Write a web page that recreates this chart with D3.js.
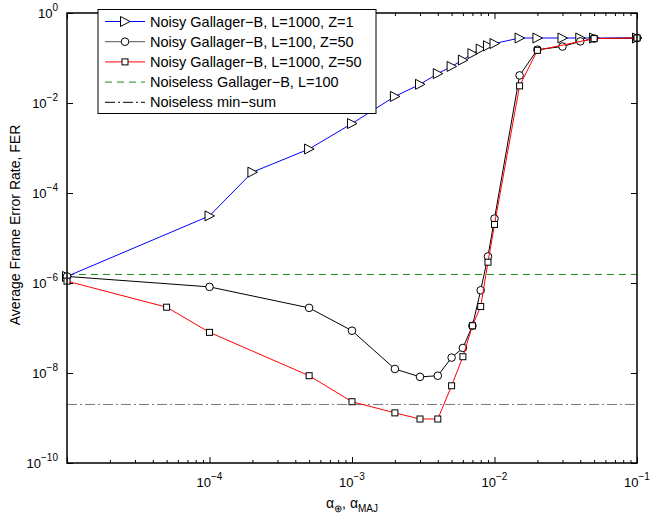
<!DOCTYPE html>
<html><head><meta charset="utf-8">
<script src="https://cdn.jsdelivr.net/npm/d3@7"></script>
<style>
body{margin:0;background:#fff;}
text{font-family:"Liberation Sans",Arial,Helvetica,sans-serif;fill:#000;}
</style></head>
<body><svg id="c" width="652" height="517"></svg>
<script>
// ---- data ----
const blueX = [1e-5,1e-4,2e-4,5e-4,1e-3,2e-3,3e-3,4e-3,5e-3,6e-3,7e-3,8e-3,9e-3,1e-2,1.5e-2,2e-2,3e-2,4e-2,5e-2,1e-1];
const blueY = [1.4e-6,3.1e-5,2.9e-4,9.5e-4,3.5e-3,1.4e-2,2.6e-2,4.5e-2,6.5e-2,9e-2,0.125,0.158,0.187,0.21,0.278,0.278,0.278,0.278,0.278,0.278];
const blackX = [1e-5,1e-4,5e-4,1e-3,2e-3,3e-3,4e-3,5e-3,6e-3,7e-3,8e-3,9e-3,1e-2,1.5e-2,2e-2,3e-2,4e-2,5e-2,1e-1];
const blackY = [1.4e-6,8.2e-7,2.8e-7,8.7e-8,1.23e-8,8.2e-9,8.7e-9,2.2e-8,3.6e-8,1.12e-7,6.9e-7,3.9e-6,2.7e-5,4.1e-2,0.153,0.18,0.234,0.27,0.278];
const redX = [1e-5,5e-5,1e-4,5e-4,1e-3,2e-3,3e-3,4e-3,5e-3,6e-3,7e-3,8e-3,9e-3,1e-2,1.5e-2,2e-2,5e-2,1e-1];
const redY = [1.1e-6,2.9e-7,8e-8,8.7e-9,2.3e-9,1.3e-9,9.5e-10,9.5e-10,5.2e-9,2.3e-8,1.12e-7,3e-7,2.9e-6,2e-5,2.4e-2,0.148,0.27,0.278];
const noiselessGallagerB = 1.55e-6;
const noiselessMinSum = 2e-9;
const xTickExps = [-4,-3,-2,-1];
const yTickExps = [0,-2,-4,-6,-8,-10];
const legendLabels = ["Noisy Gallager\u2212B, L=1000, Z=1","Noisy Gallager\u2212B, L=100, Z=50","Noisy Gallager\u2212B, L=1000, Z=50","Noiseless Gallager\u2212B, L=100","Noiseless min\u2212sum"];

// ---- layout ----
const svg = d3.select("#c");
const L=67,R=637,T=13,B=463;
const x = d3.scaleLog().domain([1e-5,1e-1]).range([L,R]);
const y = d3.scaleLog().domain([1e-10,1]).range([B,T]);

const xMinor=[];
for(let e=-5;e<-1;e++) for(let m=2;m<=9;m++) xMinor.push(m*Math.pow(10,e));
const xMajor = [-5,-4,-3,-2,-1].map(e=>Math.pow(10,e));
const yMajor = yTickExps.map(e=>Math.pow(10,e));

function styleAxis(g){g.select(".domain").remove();g.selectAll("line").attr("stroke","#000").attr("stroke-width",1);g.selectAll("text").remove();}
svg.append("g").attr("transform",`translate(0,${B})`).call(d3.axisBottom(x).tickValues(xMajor).tickSize(-6).tickFormat("")).call(styleAxis);
svg.append("g").attr("transform",`translate(0,${B})`).call(d3.axisBottom(x).tickValues(xMinor).tickSize(-3).tickFormat("")).call(styleAxis);
svg.append("g").attr("transform",`translate(0,${T})`).call(d3.axisTop(x).tickValues(xMajor).tickSize(-6).tickFormat("")).call(styleAxis);
svg.append("g").attr("transform",`translate(0,${T})`).call(d3.axisTop(x).tickValues(xMinor).tickSize(-3).tickFormat("")).call(styleAxis);
svg.append("g").attr("transform",`translate(${L},0)`).call(d3.axisLeft(y).tickValues(yMajor).tickSize(-6).tickFormat("")).call(styleAxis);
svg.append("g").attr("transform",`translate(${R},0)`).call(d3.axisRight(y).tickValues(yMajor).tickSize(-6).tickFormat("")).call(styleAxis);

xTickExps.forEach(e=>{
  const t=svg.append("text").attr("x",x(Math.pow(10,e))).attr("y",B+24).attr("text-anchor","middle").style("font-size","13px");
  t.append("tspan").text("10");
  t.append("tspan").attr("dy",-7).style("font-size","10px").text(e<0?"\u2212"+(-e):String(e));
});
yTickExps.forEach(e=>{
  const t=svg.append("text").attr("x",L-9).attr("y",y(Math.pow(10,e))+5).attr("text-anchor","end").style("font-size","13px");
  t.append("tspan").text("10");
  t.append("tspan").attr("dy",-7).style("font-size","10px").text(e<0?"\u2212"+(-e):String(e));
});

const xl=svg.append("text").attr("x",(L+R)/2).attr("y",508).attr("text-anchor","middle").style("font-size","14px");
xl.append("tspan").text("\u03b1");
xl.append("tspan").attr("dy",4).style("font-size","10px").text("\u2295");
xl.append("tspan").attr("dy",-4).text(", \u03b1");
xl.append("tspan").attr("dy",4).style("font-size","10px").text("MAJ");
svg.append("text").attr("transform",`translate(20,225) rotate(-90)`).attr("text-anchor","middle").style("font-size","14px").text("Average Frame Error Rate, FER");

svg.append("line").attr("x1",L).attr("x2",R).attr("y1",y(noiselessGallagerB)).attr("y2",y(noiselessGallagerB)).attr("stroke","#1a8a1a").attr("stroke-dasharray","7,5");
svg.append("line").attr("x1",L).attr("x2",R).attr("y1",y(noiselessMinSum)).attr("y2",y(noiselessMinSum)).attr("stroke","#7a7a7a").attr("stroke-dasharray","10,3,2,3");

const line=d3.line().x(d=>x(d[0])).y(d=>y(d[1]));
const tri = (g,cx,cy)=>g.append("path").attr("d",`M${cx-4.5},${cy-5}L${cx+5},${cy}L${cx-4.5},${cy+5}Z`).attr("fill","#fff").attr("stroke","#000");
const circ = (g,cx,cy)=>g.append("circle").attr("cx",cx).attr("cy",cy).attr("r",3.8).attr("fill","#fff").attr("stroke","#000");
const sq = (g,cx,cy)=>g.append("rect").attr("x",cx-3).attr("y",cy-3).attr("width",6).attr("height",6).attr("fill","#fff").attr("stroke","#000");

function series(xs,ys,color,mk){
  const d=xs.map((v,i)=>[v,ys[i]]);
  const g=svg.append("g");
  g.append("path").attr("d",line(d)).attr("fill","none").attr("stroke",color).attr("stroke-width",1);
  d.forEach(p=>mk(g,x(p[0]),y(p[1])));
}
series(blueX,blueY,"#0000ff",tri);
series(blackX,blackY,"#000",circ);
series(redX,redY,"#ff0000",sq);

svg.append("rect").attr("x",L).attr("y",T).attr("width",R-L).attr("height",B-T).attr("fill","none").attr("stroke","#000").attr("stroke-width",1.5);

const lg=svg.append("g");
lg.append("rect").attr("x",98).attr("y",9.5).attr("width",278).attr("height",104).attr("fill","#fff").attr("stroke","#000").attr("stroke-width",1);
const lcol=["#0000ff","#555","#ff0000","#1a8a1a","#000"];
const ldash=[null,null,null,"7,5","10,3,2,3"];
const lmk=[tri,circ,sq,null,null];
legendLabels.forEach((s,i)=>{
  const yy=21.5+i*20.2;
  const l=lg.append("line").attr("x1",105).attr("x2",145).attr("y1",yy).attr("y2",yy).attr("stroke",lcol[i]);
  if(ldash[i]) l.attr("stroke-dasharray",ldash[i]);
  if(lmk[i]) lmk[i](lg,125,yy);
  lg.append("text").attr("x",150).attr("y",yy+5).style("font-size","14.5px").text(s);
});
</script></body></html>
